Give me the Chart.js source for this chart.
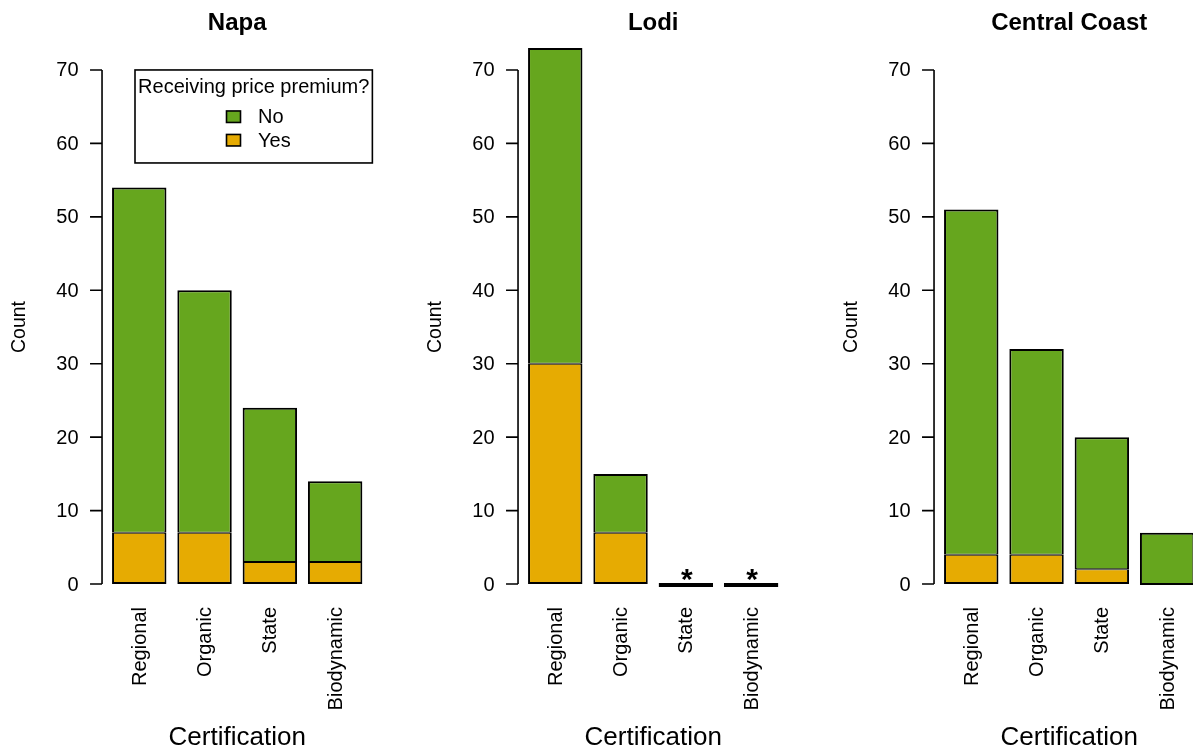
<!DOCTYPE html>
<html>
<head>
<meta charset="utf-8">
<script src="https://cdn.jsdelivr.net/npm/chart.js@4.4.1/dist/chart.umd.min.js"></script>
<style>
  html, body { margin: 0; padding: 0; background: #ffffff; overflow: hidden; }
  #wrap { position: relative; width: 1193px; height: 750px; overflow: hidden; background: #ffffff; }
  .panel { position: absolute; top: 0; width: 416px; height: 750px; }
</style>
</head>
<body>
<div id="wrap">
  <div class="panel" style="left:0px"><canvas id="c0" width="416" height="750"></canvas></div>
  <div class="panel" style="left:416px"><canvas id="c1" width="416" height="750"></canvas></div>
  <div class="panel" style="left:832px"><canvas id="c2" width="416" height="750"></canvas></div>
</div>
<script>
// Certification types on the x axis
const categories = ['Regional', 'Organic', 'State', 'Biodynamic'];
const regions = ['Napa', 'Lodi', 'Central Coast'];
const seriesNames = ['No', 'Yes'];

// Counts of growers per certification, split by price premium
const napaNo   = [47, 33, 21, 11];
const napaYes  = [7, 7, 3, 3];
const lodiNo   = [43, 8, 0, 0];
const lodiYes  = [30, 7, 0, 0];
const coastNo  = [47, 28, 18, 7];
const coastYes = [4, 4, 2, 0];

// Markers placed above empty bars
const napaNotes  = ['', '', '', ''];
const lodiNotes  = ['', '', '*', '*'];
const coastNotes = ['', '', '', ''];

const yTicks = [0, 10, 20, 30, 40, 50, 60, 70];
const xTitle = 'Certification';
const yTitle = 'Count';
const legendTitle = 'Receiving price premium?';

const colNo = '#66A61E';
const colYes = '#E6AB02';
const FONT = '"Liberation Sans", Arial, Helvetica, sans-serif';

// Base-graphics style axes, titles, notes and legend
const rAxes = {
  id: 'rAxes',
  afterDatasetsDraw(chart, args, opts) {
    const ctx = chart.ctx;
    const xs = chart.scales.x, ys = chart.scales.y, a = chart.chartArea;
    const unit = (xs.getPixelForValue(1) - xs.getPixelForValue(0)) / 1.2;
    const axisX = a.left - 0.084 * unit;
    const plotRight = a.right + 0.084 * unit;
    const midX = (a.left + a.right) / 2;
    ctx.save();
    ctx.strokeStyle = '#000';
    ctx.fillStyle = '#000';
    ctx.lineWidth = 1.6;

    // y axis line and ticks
    ctx.beginPath();
    ctx.moveTo(axisX, ys.getPixelForValue(yTicks[0]));
    ctx.lineTo(axisX, ys.getPixelForValue(yTicks[yTicks.length - 1]));
    yTicks.forEach(v => {
      const py = ys.getPixelForValue(v);
      ctx.moveTo(axisX, py);
      ctx.lineTo(axisX - 12, py);
    });
    ctx.stroke();

    ctx.font = '20px ' + FONT;
    ctx.textAlign = 'right';
    ctx.textBaseline = 'middle';
    yTicks.forEach(v => {
      ctx.fillText(String(v), axisX - 23.5, ys.getPixelForValue(v) + 1);
    });

    // rotated category labels
    chart.data.labels.forEach((lab, i) => {
      ctx.save();
      ctx.translate(xs.getPixelForValue(i) + 1, 607);
      ctx.rotate(-Math.PI / 2);
      ctx.textAlign = 'right';
      ctx.textBaseline = 'middle';
      ctx.fillText(lab, 0, 0);
      ctx.restore();
    });

    // y axis title
    ctx.save();
    ctx.translate(20, (a.top + a.bottom) / 2);
    ctx.rotate(-Math.PI / 2);
    ctx.font = '19.5px ' + FONT;
    ctx.textAlign = 'center';
    ctx.textBaseline = 'middle';
    ctx.fillText(yTitle, 0, 0);
    ctx.restore();

    // x axis title
    ctx.font = '26px ' + FONT;
    ctx.textAlign = 'center';
    ctx.textBaseline = 'alphabetic';
    ctx.fillText(xTitle, midX, 745);

    // panel title
    ctx.font = 'bold 24px ' + FONT;
    ctx.fillText(opts.title, midX, 30);

    // notes above bars
    ctx.font = 'bold 30px ' + FONT;
    (opts.notes || []).forEach((n, i) => {
      if (!n) return;
      let top = 0;
      chart.data.datasets.forEach(ds => { top += ds.data[i]; });
      ctx.fillText(n, xs.getPixelForValue(i) + 1, ys.getPixelForValue(top) + 5);
    });

    // legend box in the upper right of the plot
    if (opts.legend) {
      const by = ys.getPixelForValue(70);
      const left = 135, bh = 93;
      ctx.lineWidth = 1.6;
      ctx.strokeRect(left, by, plotRight - left, bh);
      const cx = (left + plotRight) / 2;
      ctx.font = '20px ' + FONT;
      ctx.textAlign = 'center';
      ctx.textBaseline = 'alphabetic';
      ctx.fillText(legendTitle, cx, by + 23);
      // entries listed as No then Yes
      const entries = [chart.data.datasets[1], chart.data.datasets[0]];
      entries.forEach((ds, k) => {
        const ey = by + 41 + k * 23.5;
        ctx.fillStyle = ds.backgroundColor;
        ctx.fillRect(226.5, ey, 14, 11.5);
        ctx.strokeRect(226.5, ey, 14, 11.5);
        ctx.fillStyle = '#000';
        ctx.textAlign = 'left';
        ctx.fillText(ds.label, 258, ey + 12.5);
      });
    }
    ctx.restore();
  }
};

function makePanel(id, title, no, yes, notes, legend) {
  const common = {
    borderColor: '#000000',
    borderSkipped: false,
    minBarLength: 2,
    categoryPercentage: 1.0,
    barPercentage: 1 / 1.2,
    clip: false
  };
  return new Chart(document.getElementById(id), {
    type: 'bar',
    data: {
      labels: categories,
      datasets: [
        Object.assign({ label: seriesNames[1], data: yes, backgroundColor: colYes,
          borderWidth: { top: 1, bottom: 2, left: 2, right: 2 } }, common),
        Object.assign({ label: seriesNames[0], data: no, backgroundColor: colNo,
          borderWidth: { top: 2, bottom: 1, left: 2, right: 2 } }, common)
      ]
    },
    options: {
      responsive: false,
      devicePixelRatio: 1,
      animation: false,
      events: [],
      layout: { padding: { left: 106.6, right: 48.2, top: 49.4, bottom: 145.4 } },
      scales: {
        x: { type: 'category', stacked: true, display: false, offset: true },
        y: { type: 'linear', stacked: true, display: false, min: -2.8, max: 72.8 }
      },
      plugins: {
        legend: { display: false },
        tooltip: { enabled: false },
        rAxes: { title: title, notes: notes, legend: legend }
      }
    },
    plugins: [rAxes]
  });
}

makePanel('c0', regions[0], napaNo, napaYes, napaNotes, true);
makePanel('c1', regions[1], lodiNo, lodiYes, lodiNotes, false);
makePanel('c2', regions[2], coastNo, coastYes, coastNotes, false);
</script>
</body>
</html>
